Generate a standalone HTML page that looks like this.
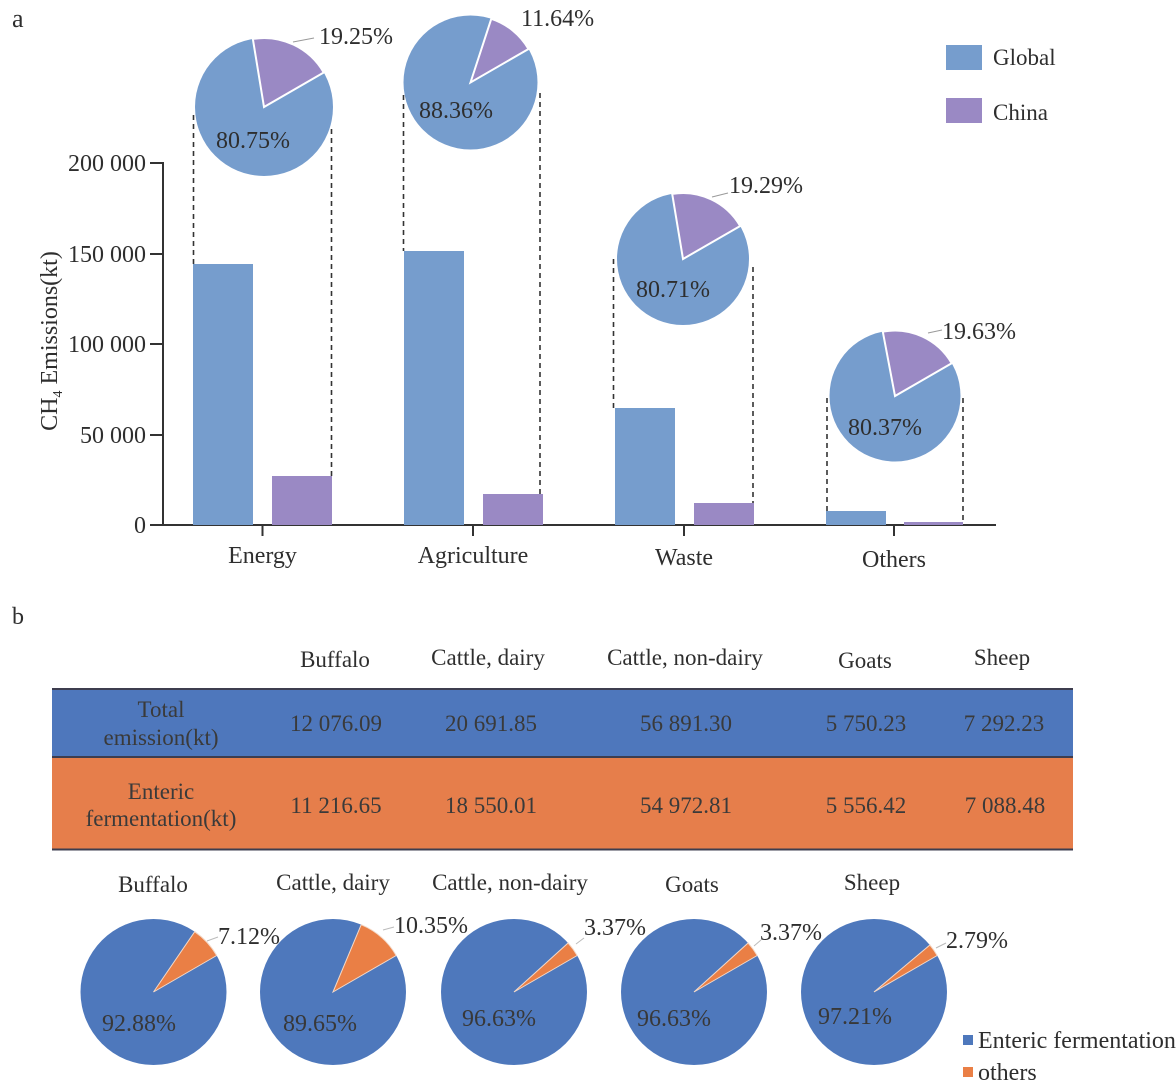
<!DOCTYPE html>
<html>
<head>
<meta charset="utf-8">
<style>
  html,body{margin:0;padding:0;background:#fff;}
  svg{display:block;}
  text{font-family:"Liberation Serif","Times New Roman",serif;fill:#2e2e2e;}
</style>
</head>
<body>
<svg width="1176" height="1083" viewBox="0 0 1176 1083" xmlns="http://www.w3.org/2000/svg">
  <rect x="0" y="0" width="1176" height="1083" fill="#fff"/>

  <!-- ===== Part a ===== -->
  <text x="12" y="27" font-size="26">a</text>

  <!-- Y axis -->
  <line x1="163" y1="162" x2="163" y2="526" stroke="#333" stroke-width="2"/>
  <g stroke="#333" stroke-width="2">
    <line x1="150" y1="163" x2="163" y2="163"/>
    <line x1="150" y1="254" x2="163" y2="254"/>
    <line x1="150" y1="344" x2="163" y2="344"/>
    <line x1="150" y1="435" x2="163" y2="435"/>
    <line x1="150" y1="525" x2="163" y2="525"/>
  </g>
  <g font-size="24" text-anchor="end">
    <text x="146" y="171">200 000</text>
    <text x="146" y="262">150 000</text>
    <text x="146" y="352">100 000</text>
    <text x="146" y="443">50 000</text>
    <text x="146" y="533">0</text>
  </g>
  <text transform="translate(57,341) rotate(-90)" font-size="24" text-anchor="middle">CH<tspan font-size="14" dy="5">4</tspan><tspan dy="-5"> Emissions(kt)</tspan></text>

  <!-- X axis -->
  <line x1="162" y1="525" x2="996" y2="525" stroke="#333" stroke-width="2"/>
  <g stroke="#333" stroke-width="2">
    <line x1="262.5" y1="525" x2="262.5" y2="536"/>
    <line x1="473" y1="525" x2="473" y2="536"/>
    <line x1="684" y1="525" x2="684" y2="536"/>
    <line x1="894" y1="525" x2="894" y2="536"/>
  </g>
  <g font-size="24" text-anchor="middle">
    <text x="262.5" y="563">Energy</text>
    <text x="473" y="563">Agriculture</text>
    <text x="684" y="565">Waste</text>
    <text x="894" y="567">Others</text>
  </g>

  <!-- Bars -->
  <g fill="#769dcd">
    <rect x="193" y="264" width="60" height="261"/>
    <rect x="404" y="251" width="60" height="274"/>
    <rect x="615" y="408" width="60" height="117"/>
    <rect x="826" y="511" width="60" height="14"/>
  </g>
  <g fill="#9a89c4">
    <rect x="272" y="476" width="60" height="49"/>
    <rect x="483" y="494" width="60" height="31"/>
    <rect x="694" y="503" width="60" height="22"/>
    <rect x="904" y="522" width="59" height="3"/>
  </g>

  <!-- Dashed connectors -->
  <g stroke="#333" stroke-width="1.6" stroke-dasharray="5,4" fill="none">
    <line x1="193.5" y1="115" x2="193.5" y2="264"/>
    <line x1="331.5" y1="129" x2="331.5" y2="476"/>
    <line x1="403.5" y1="95" x2="403.5" y2="251"/>
    <line x1="540" y1="93" x2="540" y2="494"/>
    <line x1="613.5" y1="259" x2="613.5" y2="408"/>
    <line x1="753" y1="267" x2="753" y2="503"/>
    <line x1="827" y1="398" x2="827" y2="511"/>
    <line x1="963" y1="398" x2="963" y2="522"/>
  </g>

  <!-- Pies part a -->
  <g stroke="#fff" stroke-width="2">
    <circle cx="264" cy="107" r="69" fill="#769dcd" stroke="none"/>
    <path d="M264,107 L252.85,38.9 A69,69 0 0 1 323.75,72.5 Z" fill="#9a89c4"/>

    <circle cx="470.5" cy="82.5" r="67" fill="#769dcd" stroke="none"/>
    <path d="M470.5,82.5 L491.3,18.8 A67,67 0 0 1 528.5,49 Z" fill="#9a89c4"/>

    <circle cx="683" cy="259" r="66" fill="#769dcd" stroke="none"/>
    <path d="M683,259 L672.2,193.9 A66,66 0 0 1 740.2,226 Z" fill="#9a89c4"/>

    <circle cx="895" cy="396" r="65.5" fill="#769dcd" stroke="none"/>
    <path d="M895,396 L882.8,331.7 A65.5,65.5 0 0 1 951.7,363.3 Z" fill="#9a89c4"/>
  </g>
  <g stroke="#999" stroke-width="1">
    <line x1="293" y1="42" x2="314" y2="38"/>
    <line x1="712" y1="197" x2="728" y2="193"/>
    <line x1="928" y1="333" x2="942" y2="330"/>
  </g>
  <g font-size="24">
    <text x="319" y="44">19.25%</text>
    <text x="521" y="26">11.64%</text>
    <text x="729" y="193">19.29%</text>
    <text x="942" y="339">19.63%</text>
    <text x="216" y="148">80.75%</text>
    <text x="419" y="118">88.36%</text>
    <text x="636" y="297">80.71%</text>
    <text x="848" y="435">80.37%</text>
  </g>

  <!-- Legend a -->
  <rect x="946" y="45" width="36" height="25" fill="#769dcd"/>
  <rect x="946" y="98" width="36" height="25" fill="#9a89c4"/>
  <g font-size="23">
    <text x="993" y="65">Global</text>
    <text x="993" y="120">China</text>
  </g>

  <!-- ===== Part b ===== -->
  <text x="12" y="624" font-size="24">b</text>

  <g font-size="23" text-anchor="middle">
    <text x="335" y="667">Buffalo</text>
    <text x="488" y="665">Cattle, dairy</text>
    <text x="685" y="665">Cattle, non-dairy</text>
    <text x="865" y="668">Goats</text>
    <text x="1002" y="665">Sheep</text>
  </g>

  <!-- Table -->
  <rect x="52" y="689" width="1021" height="68" fill="#4e77bc"/>
  <rect x="52" y="757" width="1021" height="92" fill="#e67e4b"/>
  <g stroke="#3d3d4f" stroke-width="2">
    <line x1="52" y1="689" x2="1073" y2="689"/>
    <line x1="52" y1="757" x2="1073" y2="757"/>
    <line x1="52" y1="849.5" x2="1073" y2="849.5"/>
  </g>
  <g font-size="23" text-anchor="middle">
    <text x="161" y="717" style="fill:#3a3a3a">Total</text>
    <text x="161" y="745" style="fill:#3a3a3a">emission(kt)</text>
    <text x="336" y="731" style="fill:#3a3a3a">12 076.09</text>
    <text x="491" y="731" style="fill:#3a3a3a">20 691.85</text>
    <text x="686" y="731" style="fill:#3a3a3a">56 891.30</text>
    <text x="866" y="731" style="fill:#3a3a3a">5 750.23</text>
    <text x="1004" y="731" style="fill:#3a3a3a">7 292.23</text>

    <text x="161" y="799" style="fill:#3a3a3a">Enteric</text>
    <text x="161" y="826" style="fill:#3a3a3a">fermentation(kt)</text>
    <text x="336" y="813" style="fill:#3a3a3a">11 216.65</text>
    <text x="491" y="813" style="fill:#3a3a3a">18 550.01</text>
    <text x="686" y="813" style="fill:#3a3a3a">54 972.81</text>
    <text x="866" y="813" style="fill:#3a3a3a">5 556.42</text>
    <text x="1005" y="813" style="fill:#3a3a3a">7 088.48</text>
  </g>

  <!-- Bottom pie titles -->
  <g font-size="23" text-anchor="middle">
    <text x="153" y="892">Buffalo</text>
    <text x="333" y="890">Cattle, dairy</text>
    <text x="510" y="890">Cattle, non-dairy</text>
    <text x="692" y="892">Goats</text>
    <text x="872" y="890">Sheep</text>
  </g>

  <!-- Bottom pies -->
  <g stroke="#f3d9c8" stroke-width="1">
    <circle cx="153.5" cy="992" r="73" fill="#4e78bc" stroke="none"/>
    <path d="M153.5,992 L194.7,931.7 A73,73 0 0 1 216.7,955.5 Z" fill="#ea7f45"/>

    <circle cx="333" cy="992" r="73" fill="#4e78bc" stroke="none"/>
    <path d="M333,992 L361.2,924.7 A73,73 0 0 1 396.2,955.5 Z" fill="#ea7f45"/>

    <circle cx="514" cy="992" r="73" fill="#4e78bc" stroke="none"/>
    <path d="M514,992 L568.1,943 A73,73 0 0 1 577.2,955.5 Z" fill="#ea7f45"/>

    <circle cx="694" cy="992" r="73" fill="#4e78bc" stroke="none"/>
    <path d="M694,992 L748.1,943 A73,73 0 0 1 757.2,955.5 Z" fill="#ea7f45"/>

    <circle cx="874" cy="992" r="73" fill="#4e78bc" stroke="none"/>
    <path d="M874,992 L929.9,945 A73,73 0 0 1 937.2,955.5 Z" fill="#ea7f45"/>
  </g>
  <g stroke="#bbb" stroke-width="1">
    <line x1="207" y1="941" x2="218" y2="937"/>
    <line x1="383" y1="930" x2="394" y2="927"/>
    <line x1="576" y1="944" x2="584" y2="938"/>
    <line x1="754" y1="946" x2="761" y2="940"/>
    <line x1="936" y1="948" x2="946" y2="943"/>
  </g>
  <g font-size="24">
    <text x="218" y="944">7.12%</text>
    <text x="394" y="933">10.35%</text>
    <text x="584" y="935">3.37%</text>
    <text x="760" y="940">3.37%</text>
    <text x="946" y="948">2.79%</text>
  </g>
  <g font-size="24">
    <text x="102" y="1031" style="fill:#383838">92.88%</text>
    <text x="283" y="1031" style="fill:#383838">89.65%</text>
    <text x="462" y="1026" style="fill:#383838">96.63%</text>
    <text x="637" y="1026" style="fill:#383838">96.63%</text>
    <text x="818" y="1024" style="fill:#383838">97.21%</text>
  </g>

  <!-- Legend b -->
  <rect x="963" y="1035" width="10" height="10" fill="#4e78bc"/>
  <rect x="963" y="1067" width="10" height="10" fill="#ea7f45"/>
  <g font-size="24">
    <text x="978" y="1048">Enteric fermentation</text>
    <text x="978" y="1080">others</text>
  </g>
</svg>
</body>
</html>
